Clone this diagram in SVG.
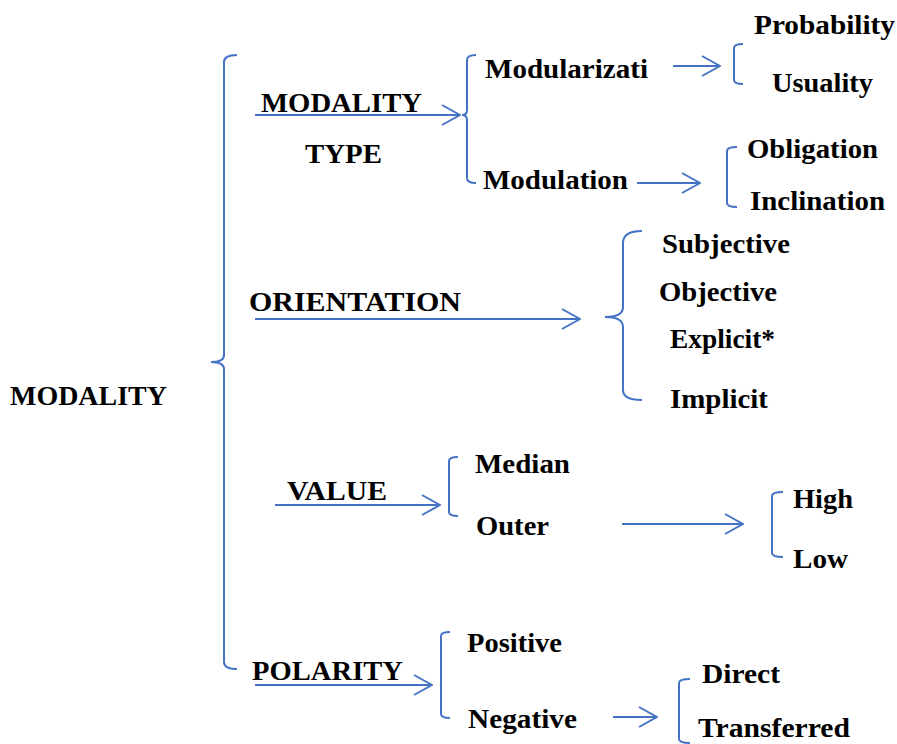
<svg xmlns="http://www.w3.org/2000/svg" width="897" height="744" viewBox="0 0 897 744">
<style>
text{font-family:"Liberation Serif","Times New Roman",Times,serif;font-weight:700;font-size:27px;fill:#000}
.ln{fill:none;stroke:#4472C4;stroke-width:2}
.ar{fill:none;stroke:#4472C4;stroke-width:2;marker-end:url(#chev)}
</style>
<defs>
<marker id="chev" viewBox="0 0 20 22" refX="19" refY="11" markerWidth="20" markerHeight="22" markerUnits="userSpaceOnUse" orient="auto">
<path d="M1,1 L19,11 L1,21" fill="none" stroke="#4472C4" stroke-width="2"/>
</marker>
</defs>
<rect width="897" height="744" fill="#fff"/>
<g id="connectors">
<path class="ln" d="M237,55 Q224,55 224,62 L224,355 Q224,362 211,362 Q224,362 224,369 L224,662 Q224,669 237,669"/>
<path class="ar" d="M255,115 L460,115"/>
<path class="ln" d="M476,55 Q467,55 467,60 L467,110 Q467,115 462,115 Q467,115 467,120 L467,178 Q467,183 476,183"/>
<path class="ar" d="M673,66 L720,66"/>
<path class="ln" d="M743,44 Q734,44 734,48 L734,80 Q734,84 743,84"/>
<path class="ar" d="M637,183 L700,183"/>
<path class="ln" d="M737,147 Q727,147 727,151 L727,203 Q727,207 737,207"/>
<path class="ar" d="M255,319 L580,319"/>
<path class="ln" d="M642,231 Q623,231 623,243 L623,307 Q623,317 605,317 Q623,317 623,327 L623,390 Q623,400 642,400"/>
<path class="ar" d="M275,505 L440,505"/>
<path class="ln" d="M458,457 Q449,457 449,461 L449,512 Q449,516 458,516"/>
<path class="ar" d="M622,524 L743,524"/>
<path class="ln" d="M783,492 Q772,492 772,496 L772,553 Q772,557 783,557"/>
<path class="ar" d="M255,685 L432,685"/>
<path class="ln" d="M450,632 Q441,632 441,636 L441,714 Q441,718 450,718"/>
<path class="ar" d="M613,717 L657,717"/>
<path class="ln" d="M690,679 Q679,679 679,683 L679,739 Q679,743 690,743"/>
</g>
<g id="n-modality"><text x="10" y="405" textLength="157" lengthAdjust="spacingAndGlyphs">MODALITY</text></g>
<g id="n-modality-type"><text x="261" y="112" textLength="161" lengthAdjust="spacingAndGlyphs">MODALITY</text><text x="305" y="163" textLength="77" lengthAdjust="spacingAndGlyphs">TYPE</text></g>
<g id="n-modularizati"><text x="485" y="78" textLength="163" lengthAdjust="spacingAndGlyphs">Modularizati</text></g>
<g id="n-probability"><text x="754" y="34" textLength="141" lengthAdjust="spacingAndGlyphs">Probability</text></g>
<g id="n-usuality"><text x="772" y="92" textLength="101" lengthAdjust="spacingAndGlyphs">Usuality</text></g>
<g id="n-modulation"><text x="483" y="189" textLength="145" lengthAdjust="spacingAndGlyphs">Modulation</text></g>
<g id="n-obligation"><text x="747" y="158" textLength="131" lengthAdjust="spacingAndGlyphs">Obligation</text></g>
<g id="n-inclination"><text x="750" y="210" textLength="135" lengthAdjust="spacingAndGlyphs">Inclination</text></g>
<g id="n-orientation"><text x="249" y="311" textLength="212" lengthAdjust="spacingAndGlyphs">ORIENTATION</text></g>
<g id="n-subjective"><text x="662" y="253" textLength="128" lengthAdjust="spacingAndGlyphs">Subjective</text></g>
<g id="n-objective"><text x="659" y="301" textLength="118" lengthAdjust="spacingAndGlyphs">Objective</text></g>
<g id="n-explicit"><text x="670" y="348" textLength="105" lengthAdjust="spacingAndGlyphs">Explicit*</text></g>
<g id="n-implicit"><text x="670" y="408" textLength="98" lengthAdjust="spacingAndGlyphs">Implicit</text></g>
<g id="n-value"><text x="287" y="500" textLength="100" lengthAdjust="spacingAndGlyphs">VALUE</text></g>
<g id="n-median"><text x="475" y="473" textLength="95" lengthAdjust="spacingAndGlyphs">Median</text></g>
<g id="n-outer"><text x="476" y="535" textLength="73" lengthAdjust="spacingAndGlyphs">Outer</text></g>
<g id="n-high"><text x="793" y="508" textLength="60" lengthAdjust="spacingAndGlyphs">High</text></g>
<g id="n-low"><text x="793" y="568" textLength="55" lengthAdjust="spacingAndGlyphs">Low</text></g>
<g id="n-polarity"><text x="252" y="680" textLength="151" lengthAdjust="spacingAndGlyphs">POLARITY</text></g>
<g id="n-positive"><text x="467" y="652" textLength="95" lengthAdjust="spacingAndGlyphs">Positive</text></g>
<g id="n-negative"><text x="468" y="728" textLength="109" lengthAdjust="spacingAndGlyphs">Negative</text></g>
<g id="n-direct"><text x="702" y="683" textLength="78" lengthAdjust="spacingAndGlyphs">Direct</text></g>
<g id="n-transferred"><text x="698" y="737" textLength="152" lengthAdjust="spacingAndGlyphs">Transferred</text></g>
</svg>
